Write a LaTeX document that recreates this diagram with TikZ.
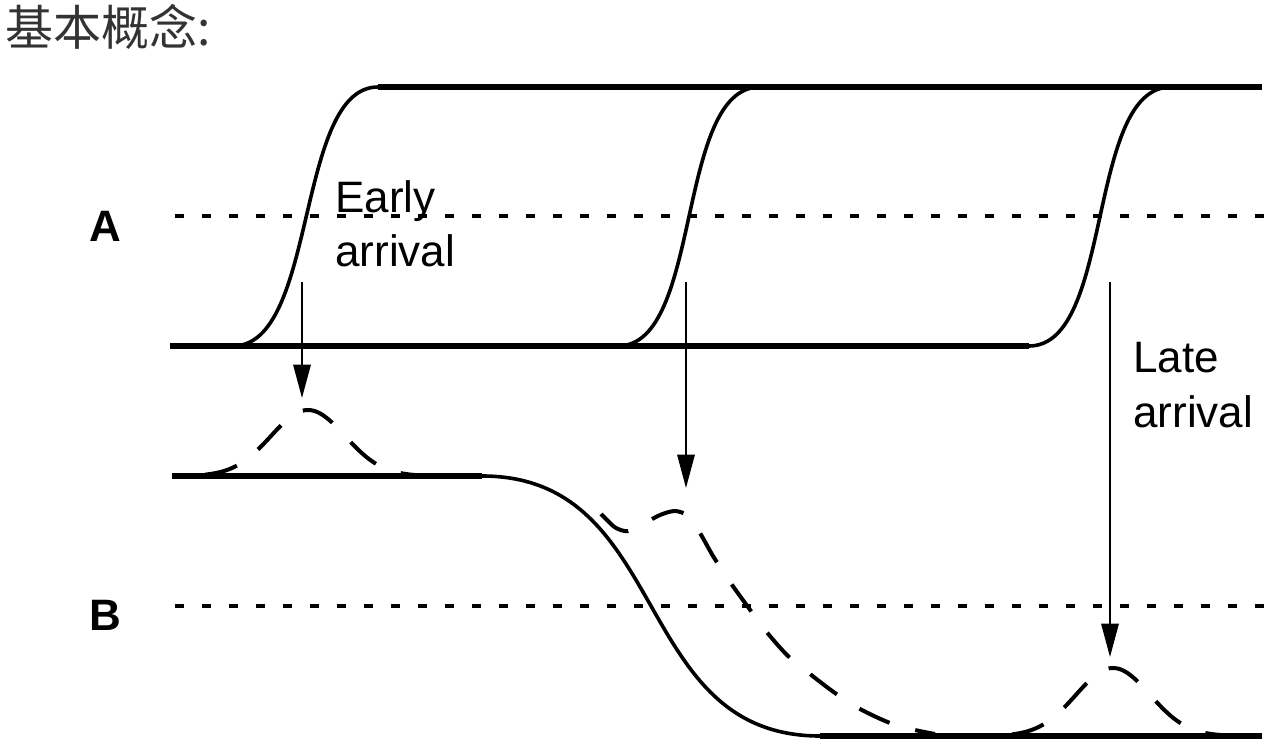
\documentclass[tikz,border=0pt]{standalone}
\usepackage{fontspec}
\setmainfont{Liberation Sans}
\newfontfamily\cjk{Noto Sans CJK SC}
\usetikzlibrary{arrows.meta}

\begin{document}
\begin{tikzpicture}[x=0.75pt,y=-0.75pt,
		rail/.style={line width=4.3pt},
		trans/.style={line width=2.7pt},
		thresh/.style={line width=2.8pt,dash pattern=on 6.4pt off 13.85pt},
		pulse/.style={line width=3pt,dash pattern=on 25pt off 20pt},
		probe/.style={line width=1.6pt,-{Triangle[length=25pt,width=13pt]}},
		lbl/.style={inner sep=0pt,font=\fontsize{33}{41}\selectfont,align=left}]
		\useasboundingbox (0,0) rectangle (1275,756);
		% title and signal names
		\node (title) [anchor=west,inner sep=0pt,text=black!80,font=\cjk\fontsize{36}{40}\selectfont] at (5,27) {基本概念:};
		\node (siga) [inner sep=0pt,font=\bfseries\fontsize{33}{40}\selectfont] at (105,226) {A};
		\node (sigb) [inner sep=0pt,font=\bfseries\fontsize{33}{40}\selectfont] at (105,615) {B};
		% switching thresholds
		\coordinate (ta0) at (175,216);
		\coordinate (ta1) at (1265,216);
		\coordinate (tb0) at (175,606);
		\coordinate (tb1) at (1265,606);
		\draw [thresh] (ta0) -- (ta1);
		\draw [thresh] (tb0) -- (tb1);
		% input A
		\coordinate (alo0) at (170,346);
		\coordinate (alo1) at (1029,346);
		\coordinate (ahi0) at (378,87);
		\coordinate (ahi1) at (1262,87);
		\draw [rail] (alo0) -- (alo1);
		\draw [rail] (ahi0) -- (ahi1);
		\draw [trans] (233,346) .. controls (318,346) and (295,87) .. (ahi0);
		\draw [trans] (618,346) .. controls (703,346) and (675,87) .. (760,87);
		\draw [trans] (alo1) .. controls (1114,346) and (1086,87) .. (1171,87);
		% output B
		\coordinate (bhi0) at (172,476);
		\coordinate (bhi1) at (482,476);
		\coordinate (blo0) at (820,736);
		\coordinate (blo1) at (1262,736);
		\draw [rail] (bhi0) -- (bhi1);
		\draw [rail] (blo0) -- (blo1);
		\draw [trans] (bhi1) .. controls (672,476) and (630,736) .. (blo0);
		% glitches
		\draw [pulse] plot[domain=205:415,samples=70] (\x,{476-66*exp(-((\x-308)/37)^2/2)});
		\draw [pulse] plot[smooth] coordinates {(601,514) (608,521) (616,528) (628,531) (645,523)
			(660,515) (675,511) (688,516) (700,533) (713,556) (730,582) (748,607) (765,630)
			(787,655) (810,674) (835,693) (860,709) (890,723) (915,730) (935,734)};
		\draw [pulse] plot[domain=1012:1222,samples=70] (\x,{736-68*exp(-((\x-1113)/37)^2/2)});
		% arrival arrows
		\coordinate (p1) at (302,282);
		\coordinate (q1) at (302,398);
		\coordinate (p2) at (686,282);
		\coordinate (q2) at (686,488);
		\coordinate (p3) at (1110,282);
		\coordinate (q3) at (1110,657);
		\draw [probe] (p1) -- (q1);
		\draw [probe] (p2) -- (q2);
		\draw [probe] (p3) -- (q3);
		\node (early) [lbl,anchor=north west] at (335,180) {Early\\arrival};
		\node (late) [lbl,anchor=north west] at (1133,342) {Late\\arrival};
	\end{tikzpicture}
\end{document}
